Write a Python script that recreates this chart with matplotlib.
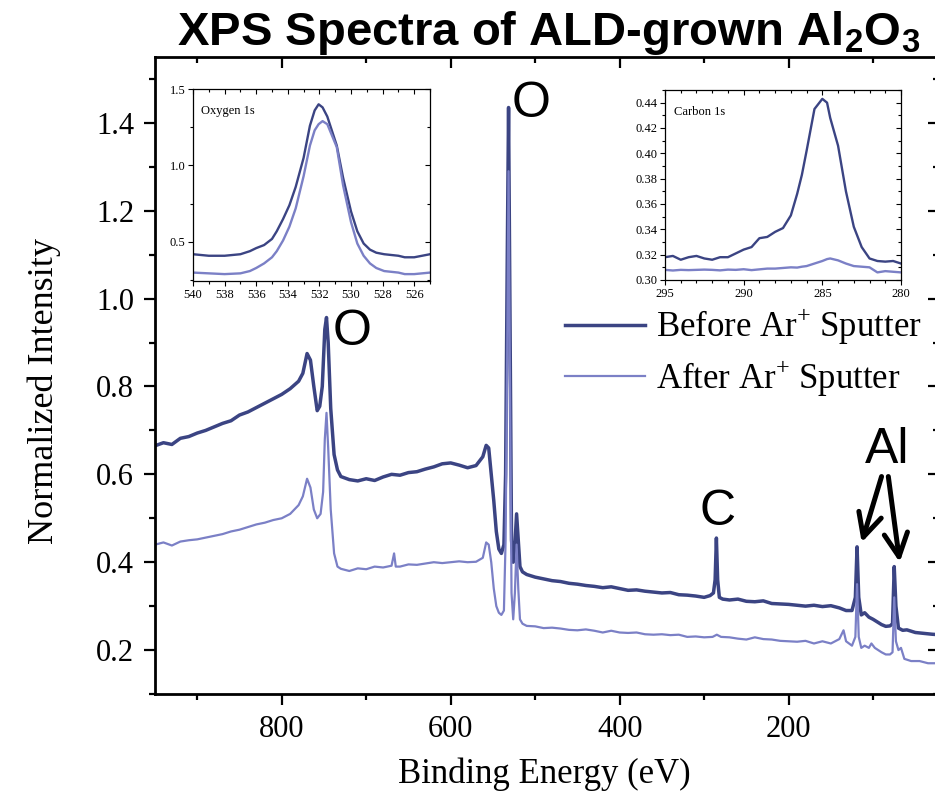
import numpy as np
import matplotlib
matplotlib.use("Agg")
import matplotlib.pyplot as plt
from matplotlib.ticker import MultipleLocator

plt.rcParams['font.family'] = ['Liberation Serif', 'DejaVu Serif']
plt.rcParams['mathtext.fontset'] = 'custom'
plt.rcParams['mathtext.rm'] = 'Liberation Serif'
plt.rcParams['mathtext.bf'] = 'Liberation Sans:bold'

DARK = '#3b4483'
LIGHT = '#7b80c6'

# survey spectrum, before sputter (binding energy eV, normalized intensity)
before_e = [950, 940, 930, 920, 910, 900, 890, 880, 870, 860, 850, 840, 830, 820, 810,
            800, 790, 780, 775, 770, 766, 762, 758, 755, 752, 749, 747, 745, 742, 738,
            734, 730, 720, 710, 700, 690, 680, 670, 660, 650, 640, 630, 620, 610, 600,
            590, 580, 570, 562, 558, 555, 552, 549, 546, 543, 540, 537, 535, 533, 531.5,
            530, 528, 526, 524, 522, 520, 518, 515, 510, 500, 490, 480, 470, 460, 450,
            440, 430, 420, 410, 400, 390, 380, 370, 360, 350, 340, 330, 320, 310, 300,
            293, 289, 287, 285.5, 284, 282, 278, 270, 260, 250, 240, 230, 220, 210, 200,
            190, 180, 170, 160, 150, 140, 132, 125, 121, 119, 117, 114, 110, 105, 100,
            95, 90, 85, 80, 77, 75, 73, 70, 65, 60, 50, 40, 30, 22]
before_i = [0.665, 0.672, 0.668, 0.682, 0.686, 0.694, 0.70, 0.708, 0.716, 0.722, 0.735, 0.742, 0.752, 0.762, 0.772,
            0.782, 0.795, 0.812, 0.83, 0.875, 0.86, 0.80, 0.745, 0.755, 0.80, 0.93, 0.957, 0.90, 0.75, 0.645,
            0.61, 0.595, 0.588, 0.585, 0.59, 0.586, 0.594, 0.60, 0.598, 0.604, 0.606, 0.612, 0.617, 0.624, 0.626,
            0.621, 0.615, 0.62, 0.64, 0.666, 0.66, 0.60, 0.54, 0.47, 0.43, 0.42, 0.44, 0.60, 1.10, 1.435,
            1.0, 0.45, 0.40, 0.44, 0.51, 0.45, 0.39, 0.378, 0.372, 0.366, 0.362, 0.358, 0.356, 0.352, 0.35,
            0.347, 0.345, 0.342, 0.344, 0.34, 0.336, 0.337, 0.334, 0.332, 0.33, 0.331, 0.326, 0.325, 0.323, 0.32,
            0.324, 0.33, 0.36, 0.455, 0.36, 0.32, 0.316, 0.314, 0.316, 0.311, 0.31, 0.312, 0.306, 0.305, 0.304,
            0.302, 0.30, 0.302, 0.299, 0.301, 0.296, 0.29, 0.29, 0.32, 0.435, 0.32, 0.28, 0.285, 0.275, 0.27,
            0.264, 0.258, 0.254, 0.255, 0.26, 0.39, 0.30, 0.25, 0.245, 0.246, 0.24, 0.238, 0.236, 0.235]

# survey spectrum, after sputter
after_e = [950, 940, 930, 920, 910, 900, 890, 880, 870, 860, 850, 840, 830, 820, 810,
           800, 790, 780, 775, 770, 766, 762, 758, 754, 751, 749, 747, 745, 742, 738,
           734, 730, 720, 710, 700, 690, 680, 670, 667, 665, 660, 650, 640, 630, 620,
           610, 600, 590, 580, 570, 562, 558, 555, 552, 549, 546, 543, 540, 537, 535,
           533, 531.5, 530, 528, 526, 524, 522, 520, 518, 515, 510, 500, 490, 480, 470,
           460, 450, 440, 430, 420, 410, 400, 390, 380, 370, 360, 350, 340, 330, 320,
           310, 300, 290, 285, 280, 270, 260, 250, 240, 230, 220, 210, 200, 190, 180,
           170, 160, 150, 140, 135, 132, 125, 121, 119, 117, 114, 110, 105, 102, 98,
           90, 85, 80, 77, 75, 73, 70, 67, 63, 55, 45, 35, 22]
after_i = [0.44, 0.445, 0.438, 0.447, 0.45, 0.452, 0.456, 0.46, 0.464, 0.47, 0.474, 0.48, 0.486, 0.49, 0.496,
           0.50, 0.51, 0.53, 0.55, 0.59, 0.57, 0.52, 0.50, 0.51, 0.56, 0.68, 0.74, 0.66, 0.52, 0.42,
           0.39, 0.385, 0.38, 0.386, 0.384, 0.39, 0.388, 0.392, 0.42, 0.39, 0.39, 0.395, 0.394, 0.397, 0.40,
           0.398, 0.40, 0.402, 0.40, 0.401, 0.41, 0.445, 0.44, 0.40, 0.34, 0.30, 0.285, 0.28, 0.29, 0.45,
           0.90, 1.29, 0.85, 0.33, 0.27, 0.33, 0.44, 0.34, 0.27, 0.26, 0.255, 0.254, 0.25, 0.251, 0.249,
           0.246, 0.245, 0.247, 0.244, 0.24, 0.244, 0.24, 0.239, 0.24, 0.236, 0.235, 0.236, 0.234, 0.235, 0.23,
           0.231, 0.229, 0.23, 0.235, 0.23, 0.229, 0.226, 0.224, 0.229, 0.225, 0.224, 0.221, 0.22, 0.219, 0.221,
           0.215, 0.22, 0.215, 0.225, 0.245, 0.22, 0.21, 0.23, 0.35, 0.23, 0.205, 0.21, 0.205, 0.215, 0.205,
           0.195, 0.19, 0.19, 0.195, 0.32, 0.22, 0.20, 0.205, 0.18, 0.175, 0.175, 0.17, 0.17]

# Oxygen 1s inset
o1s_e = [540, 539, 538, 537, 536.4, 536, 535.5, 535, 534.7, 534.3, 533.9, 533.5, 533, 532.6, 532.3,
         532.05, 531.8, 531.5, 530.9, 530.5, 530, 529.6, 529.2, 528.8, 528.4, 527.9, 527, 526.6, 526, 525.5, 525]
o1s_before = [0.42, 0.41, 0.41, 0.42, 0.44, 0.46, 0.48, 0.52, 0.57, 0.65, 0.74, 0.86, 1.05, 1.26, 1.36,
              1.40, 1.38, 1.32, 1.13, 0.92, 0.70, 0.57, 0.49, 0.45, 0.43, 0.42, 0.41, 0.40, 0.40, 0.41, 0.42]
o1s_after = [0.30, 0.295, 0.29, 0.295, 0.31, 0.33, 0.36, 0.40, 0.44, 0.51, 0.60, 0.72, 0.93, 1.13, 1.23,
             1.27, 1.29, 1.27, 1.12, 0.87, 0.63, 0.49, 0.41, 0.36, 0.33, 0.31, 0.30, 0.29, 0.29, 0.295, 0.30]

# Carbon 1s inset
c1s_e = [295, 294.5, 294, 293.5, 293, 292.5, 292, 291.5, 291, 290.5, 290, 289.5, 289, 288.5, 288,
         287.5, 287, 286.6, 286.3, 286, 285.5, 285, 284.7, 284.5, 284, 283.5, 283, 282.5, 282, 281.5,
         281, 280.5, 280]
c1s_before = [0.318, 0.319, 0.316, 0.318, 0.319, 0.317, 0.316, 0.318, 0.318, 0.321, 0.324, 0.326, 0.333, 0.334, 0.338,
              0.341, 0.351, 0.368, 0.383, 0.402, 0.435, 0.443, 0.440, 0.428, 0.406, 0.37, 0.342, 0.326, 0.317, 0.315,
              0.3145, 0.315, 0.313]
c1s_after = [0.308, 0.3075, 0.308, 0.3078, 0.308, 0.3082, 0.308, 0.3076, 0.3082, 0.308, 0.3085, 0.3078, 0.3084, 0.309, 0.309,
             0.3095, 0.310, 0.3098, 0.3105, 0.311, 0.313, 0.315, 0.3165, 0.317, 0.3155, 0.313, 0.311, 0.3105, 0.310, 0.306,
             0.307, 0.3065, 0.306]

W, H = 935, 801
fig = plt.figure(figsize=(W / 100, H / 100), dpi=100)


def box(l, t, r, b):
    return [l / W, 1 - b / H, (r - l) / W, (b - t) / H]


ax = fig.add_axes(box(155, 57, 939, 694))
ax.plot(before_e, before_i, color=DARK, lw=2.5, label='Before Ar$^{+}$ Sputter')
ax.plot(after_e, after_i, color=LIGHT, lw=1.6, label='After Ar$^{+}$ Sputter')
ax.set_xlim(950, 22)
ax.set_ylim(0.1, 1.55)
ax.xaxis.set_major_locator(MultipleLocator(200))
ax.xaxis.set_minor_locator(MultipleLocator(100))
ax.yaxis.set_major_locator(MultipleLocator(0.2))
ax.yaxis.set_minor_locator(MultipleLocator(0.1))
ax.tick_params(which='both', labelsize=22, width=1.6, direction='out',
               top=True, right=True)
ax.tick_params(which='major', length=8, pad=7)
ax.tick_params(which='minor', length=4.5)
for sp in ax.spines.values():
    sp.set_linewidth(2)
ax.set_xlabel('Binding Energy (eV)', fontsize=25)
ax.set_ylabel('Normalized Intensity', fontsize=26)
ax.xaxis.set_label_coords(0.497, -0.1)
ax.yaxis.set_label_coords(-0.12, 0.475)
# top/right ticks point inward
for t in ax.xaxis.get_major_ticks() + ax.xaxis.get_minor_ticks():
    t.tick2line.set_marker(3)
for t in ax.yaxis.get_major_ticks() + ax.yaxis.get_minor_ticks():
    t.tick2line.set_marker(0)

ax.legend(loc='upper left', bbox_to_anchor=(0.505, 0.632), frameon=False, fontsize=25,
          handlelength=2.3, handletextpad=0.33, labelspacing=0.3, borderaxespad=0)

sans = 'Liberation Sans'
ax.text(505, 1.443, 'O', family=sans, fontsize=36, ha='center', va='center')
ax.text(717, 0.924, 'O', family=sans, fontsize=36, ha='center', va='center')
ax.text(284, 0.514, 'C', family=sans, fontsize=36, ha='center', va='center')
ax.text(83, 0.655, 'Al', family=sans, fontsize=36, ha='center', va='center')
arrow = dict(arrowstyle='->', lw=3.6, color='black', mutation_scale=42, shrinkA=0, shrinkB=0)
ax.annotate('', xy=(113.5, 0.445), xytext=(90, 0.595), arrowprops=arrow)
ax.annotate('', xy=(68.5, 0.40), xytext=(82, 0.595), arrowprops=arrow)

fig.text(549 / W, 1 - 33 / H, r'XPS Spectra of ALD-grown Al$_\mathbf{2}$O$_\mathbf{3}$',
         family=sans, fontweight='bold', fontsize=34, ha='center', va='center')


def style_inset(a):
    for sp in a.spines.values():
        sp.set_linewidth(0.9)
    a.tick_params(which='both', labelsize=9, width=0.8, direction='out', top=True, right=True, pad=2)
    a.tick_params(which='major', length=3.5)
    a.tick_params(which='minor', length=2)
    for t in a.xaxis.get_major_ticks() + a.xaxis.get_minor_ticks():
        t.tick2line.set_marker(3)
    for t in a.yaxis.get_major_ticks() + a.yaxis.get_minor_ticks():
        t.tick2line.set_marker(0)


axo = fig.add_axes(box(193, 89, 430, 281))
axo.plot(o1s_e, o1s_before, color=DARK, lw=1.7)
axo.plot(o1s_e, o1s_after, color=LIGHT, lw=1.7)
axo.set_xlim(540, 525)
axo.set_ylim(0.245, 1.5)
axo.xaxis.set_major_locator(MultipleLocator(2))
axo.xaxis.set_minor_locator(MultipleLocator(1))
axo.yaxis.set_major_locator(MultipleLocator(0.5))
axo.yaxis.set_minor_locator(MultipleLocator(0.25))
style_inset(axo)
axo.text(0.035, 0.87, 'Oxygen 1s', transform=axo.transAxes, fontsize=9)

axc = fig.add_axes(box(665, 90, 901, 280))
axc.plot(c1s_e, c1s_before, color=DARK, lw=1.7)
axc.plot(c1s_e, c1s_after, color=LIGHT, lw=1.7)
axc.set_xlim(295, 280)
axc.set_ylim(0.30, 0.45)
axc.xaxis.set_major_locator(MultipleLocator(5))
axc.xaxis.set_minor_locator(MultipleLocator(1))
axc.yaxis.set_major_locator(MultipleLocator(0.02))
axc.yaxis.set_minor_locator(MultipleLocator(0.01))
style_inset(axc)
axc.text(0.04, 0.87, 'Carbon 1s', transform=axc.transAxes, fontsize=9)

fig.savefig('out.png', dpi=100)
